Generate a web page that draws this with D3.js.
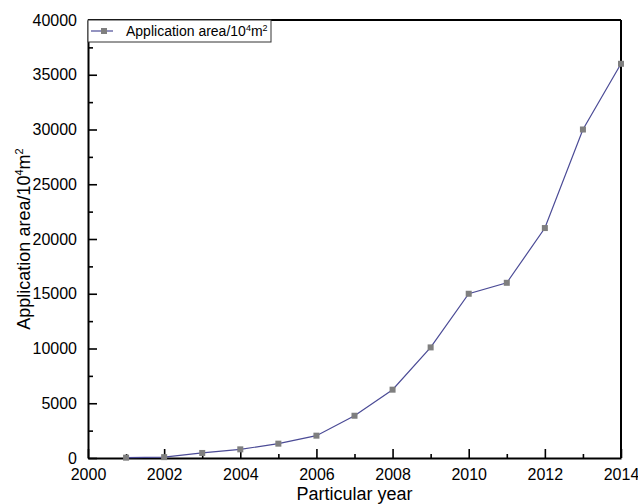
<!DOCTYPE html>
<html>
<head>
<meta charset="utf-8">
<script src="https://cdn.jsdelivr.net/npm/d3@7"></script>
<style>
  body { margin: 0; background: #fff; }
  text { font-family: Arial, "Liberation Sans", sans-serif; fill: #000; }
</style>
</head>
<body>
<div id="chart"></div>
<script>
// data
var years = [2001, 2002, 2003, 2004, 2005, 2006, 2007, 2008, 2009, 2010, 2011, 2012, 2013, 2014];
var area = [30, 80, 460, 790, 1310, 2040, 3860, 6240, 10100, 15000, 16000, 21000, 30000, 36000];
var xTicks = [2000, 2002, 2004, 2006, 2008, 2010, 2012, 2014];
var yTicks = [0, 5000, 10000, 15000, 20000, 25000, 30000, 35000, 40000];
var seriesName = "Application area/10";

var W = 638, H = 504;
var margin = {left: 88, right: 17, top: 20, bottom: 46};
var w = W - margin.left - margin.right;
var h = H - margin.top - margin.bottom;

var svg = d3.select("#chart").append("svg")
    .attr("width", W)
    .attr("height", H);

var g = svg.append("g")
    .attr("transform", "translate(" + margin.left + "," + margin.top + ")");

var x = d3.scaleLinear().domain([2000, 2014]).range([0, w]);
var y = d3.scaleLinear().domain([0, 40000]).range([h, 0]);

// minor ticks (inward)
var xMinor = d3.range(2001, 2014, 2);
var yMinor = d3.range(2500, 40000, 5000);

var xAxis = d3.axisBottom(x).tickValues(xTicks).tickFormat(d3.format("d"))
    .tickSizeInner(-9).tickSizeOuter(0).tickPadding(13);
var yAxis = d3.axisLeft(y).tickValues(yTicks).tickFormat(d3.format("d"))
    .tickSizeInner(-9).tickSizeOuter(0).tickPadding(11);

var gx = g.append("g").attr("transform", "translate(0," + h + ")").call(xAxis);
gx.append("g").call(d3.axisBottom(x).tickValues(xMinor).tickFormat("").tickSizeInner(-4).tickSizeOuter(0))
    .select(".domain").remove();
var gy = g.append("g").call(yAxis);
gy.append("g").call(d3.axisLeft(y).tickValues(yMinor).tickFormat("").tickSizeInner(-5).tickSizeOuter(0))
    .select(".domain").remove();

g.selectAll(".tick line").attr("stroke", "#000").attr("stroke-width", 1.6);
g.selectAll(".domain").attr("stroke", "#000").attr("stroke-width", 2);
g.selectAll(".tick text").attr("font-size", "16px").attr("font-family", "Arial, 'Liberation Sans', sans-serif");
gx.selectAll(".tick text").attr("dy", "0.55em");

// frame top and right
g.append("line").attr("x1", 0).attr("x2", w).attr("y1", 0).attr("y2", 0)
    .attr("stroke", "#000").attr("stroke-width", 2);
g.append("line").attr("x1", w).attr("x2", w).attr("y1", 0).attr("y2", h)
    .attr("stroke", "#000").attr("stroke-width", 2);

// series
var pts = years.map(function (d, i) { return [d, area[i]]; });
var line = d3.line()
    .x(function (d) { return x(d[0]); })
    .y(function (d) { return y(d[1]); });

g.append("path").datum(pts)
    .attr("d", line)
    .attr("fill", "none")
    .attr("stroke", "#4b4b96")
    .attr("stroke-width", 1.2);

g.selectAll("rect.pt").data(pts).enter().append("rect")
    .attr("class", "pt")
    .attr("x", function (d) { return x(d[0]) - 3; })
    .attr("y", function (d) { return y(d[1]) - 3; })
    .attr("width", 6).attr("height", 6)
    .attr("fill", "#7f7f7f");

// legend
var lg = g.append("g");
lg.append("rect").attr("x", 0).attr("y", 0).attr("width", 183).attr("height", 22)
    .attr("fill", "#fff").attr("stroke", "#333").attr("stroke-width", 1);
lg.append("line").attr("x1", 3).attr("x2", 25).attr("y1", 11).attr("y2", 11)
    .attr("stroke", "#4b4b96").attr("stroke-width", 1.2);
lg.append("rect").attr("x", 16 - 3).attr("y", 11 - 3).attr("width", 6).attr("height", 6)
    .attr("fill", "#7f7f7f");
var lt = lg.append("text").attr("x", 38).attr("y", 16).attr("font-size", "14px");
lt.append("tspan").text(seriesName);
lt.append("tspan").text("4").attr("font-size", "9px").attr("dy", "-5");
lt.append("tspan").text("m").attr("dy", "5");
lt.append("tspan").text("2").attr("font-size", "9px").attr("dy", "-5");

// axis titles
svg.append("text")
    .attr("x", margin.left + w / 2).attr("y", 500)
    .attr("text-anchor", "middle").attr("font-size", "18px")
    .text("Particular year");

var yt = svg.append("text")
    .attr("transform", "translate(30," + (margin.top + h / 2) + ") rotate(-90)")
    .attr("text-anchor", "middle").attr("font-size", "18px");
yt.append("tspan").text(seriesName);
yt.append("tspan").text("4").attr("font-size", "11px").attr("dy", "-7");
yt.append("tspan").text("m").attr("dy", "7");
yt.append("tspan").text("2").attr("font-size", "11px").attr("dy", "-7");
</script>
</body>
</html>
